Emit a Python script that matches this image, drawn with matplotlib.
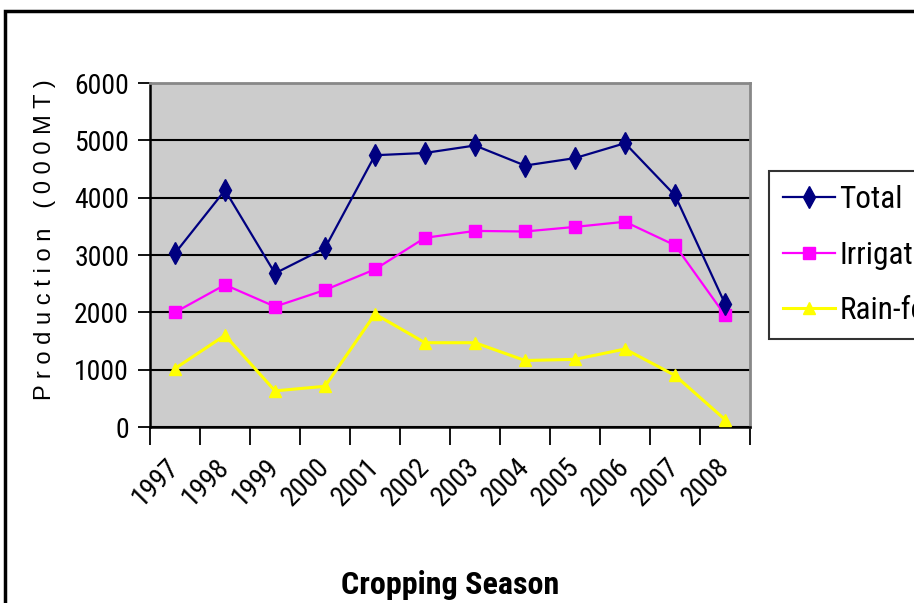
import matplotlib
matplotlib.use("Agg")
import matplotlib.pyplot as plt
from matplotlib.patches import Rectangle
from matplotlib.ticker import FixedLocator
from matplotlib import font_manager
import numpy as np

years = ["1997", "1998", "1999", "2000", "2001", "2002", "2003", "2004", "2005", "2006", "2007", "2008"]
total = [3030, 4130, 2680, 3120, 4740, 4780, 4910, 4560, 4690, 4950, 4040, 2150]
irrigated = [2000, 2480, 2100, 2390, 2750, 3300, 3420, 3410, 3490, 3580, 3170, 1950]
rainfed = [1020, 1600, 630, 710, 1970, 1470, 1470, 1160, 1180, 1360, 900, 130]
series_names = ["Total", "Irrigated", "Rain-fed"]
yticks = [0, 1000, 2000, 3000, 4000, 5000, 6000]

# pick a condensed face if one is installed
names = {f.name for f in font_manager.fontManager.ttflist}
cond = None
for cand in ["Liberation Sans Narrow", "Arial Narrow", "DejaVu Sans Condensed", "Roboto Condensed",
             "Open Sans Condensed"]:
    if cand in names:
        cond = cand
        break

if cond is not None:
    NARROW = dict(family=[cond, "DejaVu Sans"])
    NSIZE = 20
else:
    NARROW = dict(family=["DejaVu Sans"], stretch="condensed")
    NSIZE = 17
REG = ["Liberation Sans", "DejaVu Sans"]

W, H = 914, 603
fig = plt.figure(figsize=(W / 100, H / 100), dpi=100)
fig.patch.set_facecolor("white")

L, R, B, T = 150, 750, 427, 83
ax = fig.add_axes([L / W, (H - B) / H, (R - L) / W, (B - T) / H])
ax.set_facecolor("#cccccc")

x = np.arange(len(years))
ax.plot(x, total, color="#000080", lw=1.6, marker="d", ms=11, label=series_names[0], zorder=5)
ax.plot(x, irrigated, color="#ff00ff", lw=1.6, marker="s", ms=8, label=series_names[1], zorder=4)
ax.plot(x, rainfed, color="#ffff00", lw=2.2, marker="^", ms=9, label=series_names[2], zorder=3)

ax.set_xlim(-0.5, len(years) - 0.5)
ax.set_ylim(0, 6000)
ax.set_yticks(yticks)
ax.set_yticklabels([str(v) for v in yticks], fontsize=NSIZE, **NARROW)
ax.yaxis.grid(True, color="black", lw=1.5)
ax.set_axisbelow(True)
ax.tick_params(axis="y", direction="out", length=9, width=1.3, pad=6, color="black")

ax.set_xticks(x)
ax.set_xticklabels(years, fontsize=NSIZE, rotation=45, ha="right",
                   rotation_mode="anchor", va="center", **NARROW)
ax.tick_params(axis="x", which="major", length=0, pad=26)
ax.xaxis.set_minor_locator(FixedLocator(np.arange(-0.5, len(years), 1.0)))
ax.tick_params(axis="x", which="minor", direction="out", length=13, width=1.3, color="black")

for s in ["top", "right"]:
    ax.spines[s].set_color("#888888")
    ax.spines[s].set_linewidth(2)
for s in ["left", "bottom"]:
    ax.spines[s].set_color("black")
    ax.spines[s].set_linewidth(1.8)

fig.text(45 / W, (H - 240) / H, "P r o d u c t i o n   ( 0 0 0 M T )", rotation=90,
         ha="center", va="center", family=REG, fontsize=17)
fig.text(450 / W, (H - 585) / H, "Cropping Season", ha="center", va="center",
         fontsize=NSIZE + 3, fontweight="bold", **NARROW)

prop = font_manager.FontProperties(size=NSIZE + 2.5, **NARROW)
leg = fig.legend(loc="upper left", bbox_to_anchor=(769 / W, (H - 171) / H),
                 prop=prop, frameon=True, fancybox=False,
                 edgecolor="black", handlelength=1.65, handletextpad=0.15,
                 labelspacing=0.85, borderpad=0.45, borderaxespad=0)
leg.get_frame().set_linewidth(1.5)

fig.add_artist(Rectangle((5 / W, -0.05), 1.0, (H - 11) / H + 0.05, transform=fig.transFigure,
                         fill=False, edgecolor="black", lw=2.5))

fig.savefig("out.png", dpi=100)
